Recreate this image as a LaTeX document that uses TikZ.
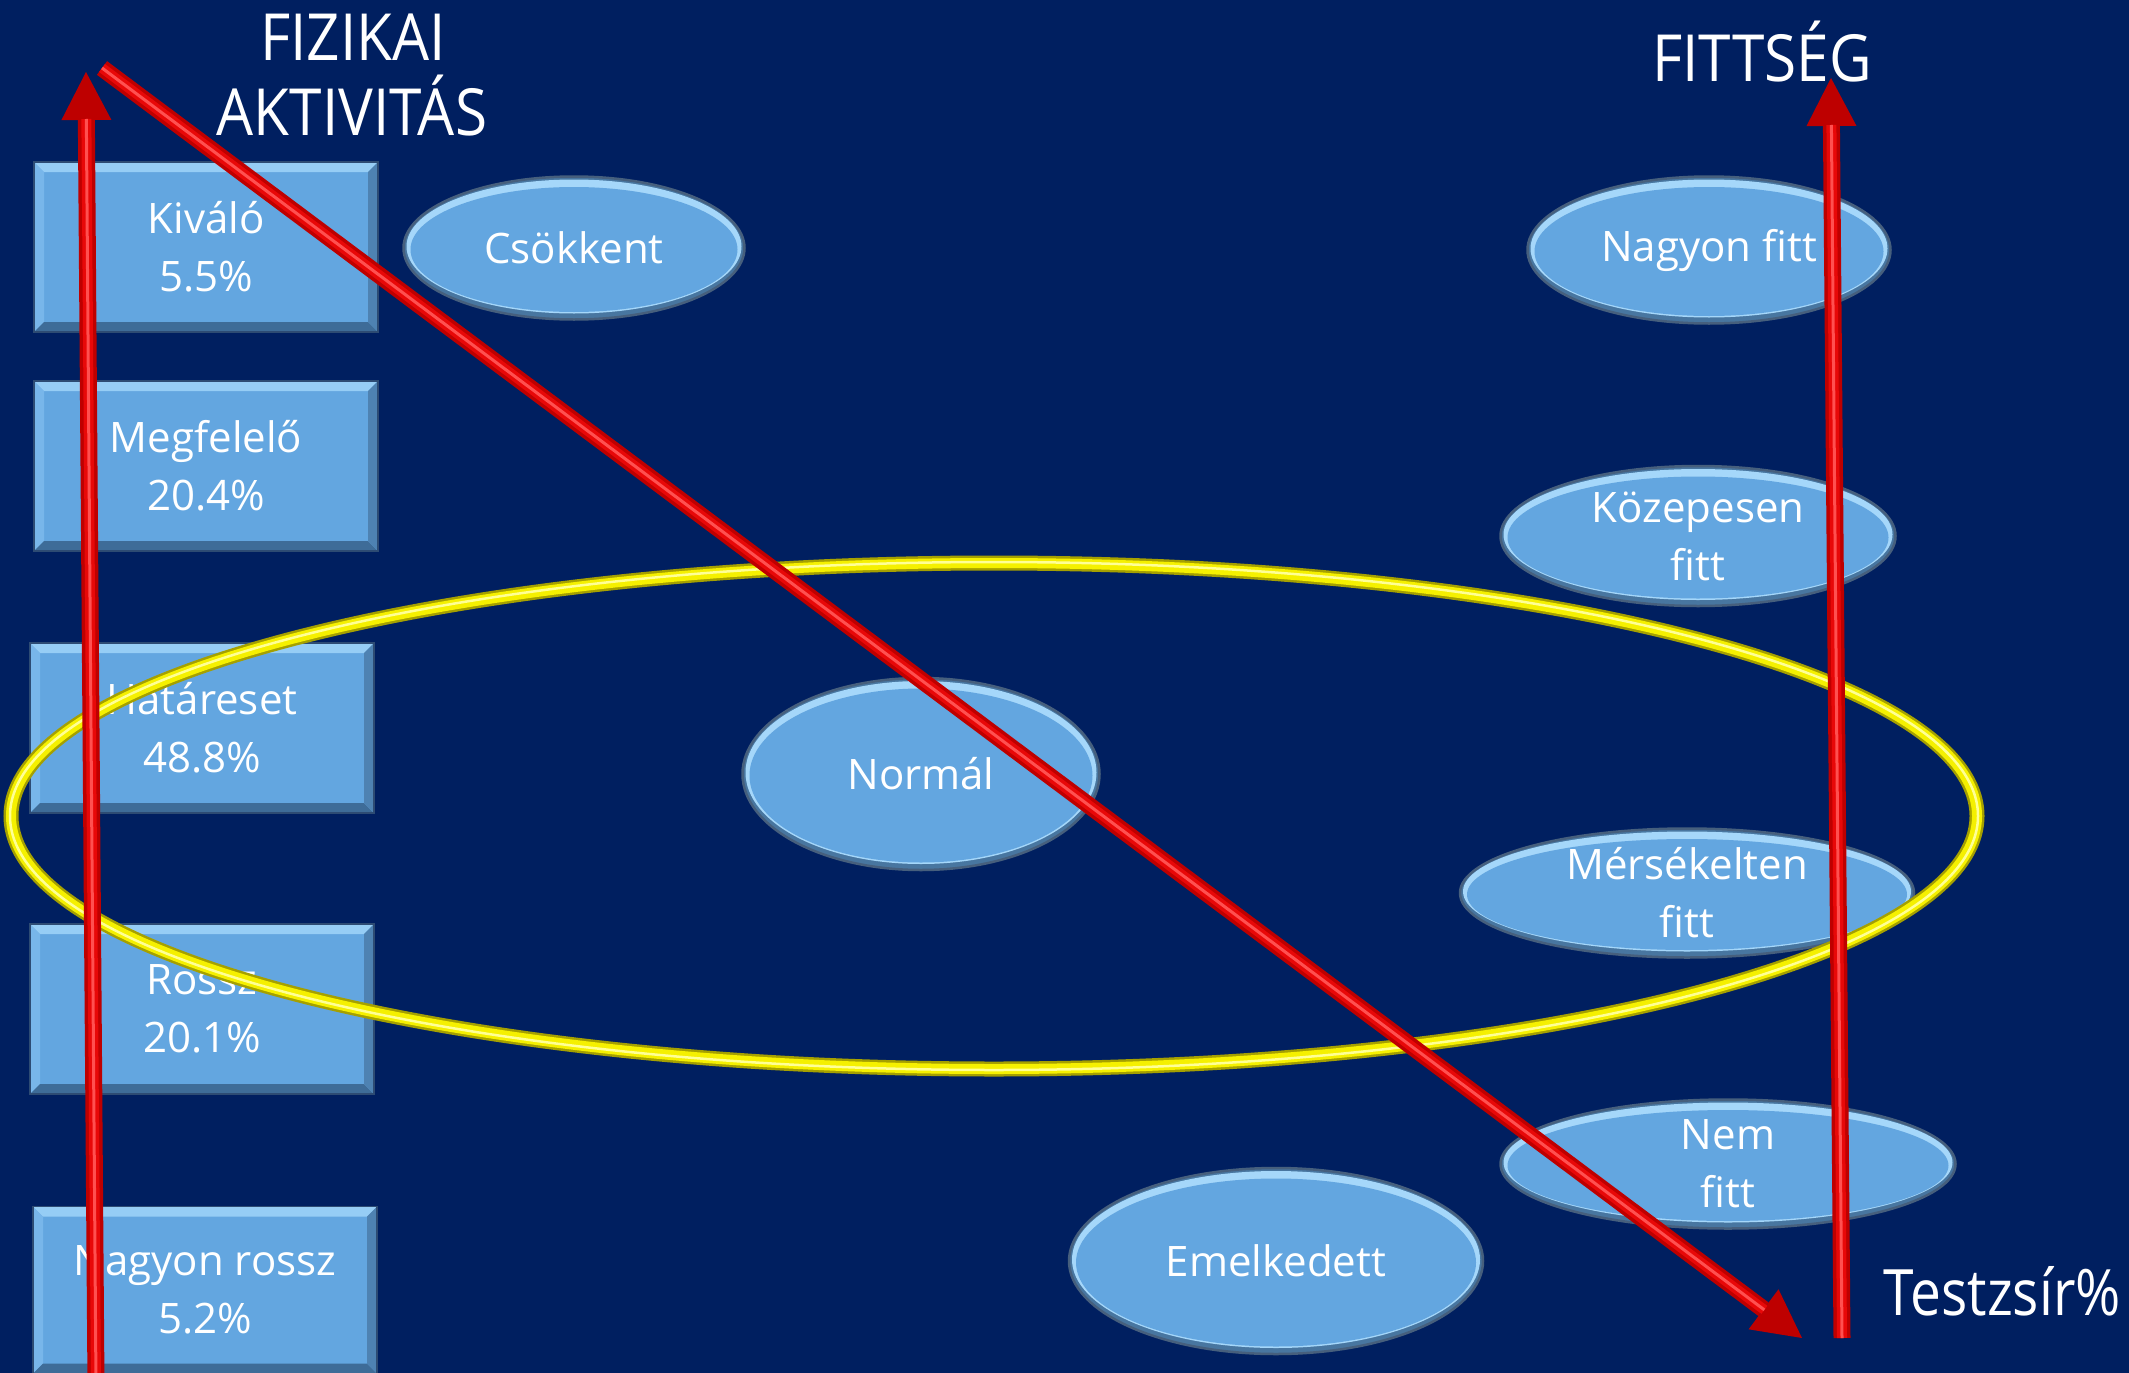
\documentclass[tikz,border=0pt]{standalone}
\usepackage{fontspec}
\setmainfont{Open Sans}
\newfontfamily\titlefont{Open Sans}[FakeStretch=0.9]
\newfontfamily\titlefontn{Open Sans}[FakeStretch=0.86]
\usetikzlibrary{shapes.geometric,arrows.meta}
\definecolor{bg}{RGB}{0,31,96}
\definecolor{boxblue}{RGB}{99,166,224}
\definecolor{boxlight}{RGB}{150,205,245}
\definecolor{boxleft}{RGB}{120,182,234}
\definecolor{boxdark}{RGB}{62,108,152}
\definecolor{boxright}{RGB}{78,130,178}
\definecolor{boxedge}{RGB}{45,75,115}
\definecolor{ovaledge}{RGB}{70,95,125}
\definecolor{ovaldark}{RGB}{72,118,160}
\definecolor{ovallight}{RGB}{165,215,250}
\definecolor{tubebase}{RGB}{190,0,0}
\definecolor{tubered}{RGB}{232,8,8}
\definecolor{tubelight}{RGB}{255,80,80}
\definecolor{ringdark}{RGB}{165,160,0}
\definecolor{ringyel}{RGB}{245,240,0}
\definecolor{ringlight}{RGB}{255,255,150}
\begin{document}
\begin{tikzpicture}[x=1pt,y=-1pt,
  bodytext/.style={text=white, align=center, font=\fontsize{42}{58}\selectfont},
  pbox/.style={rectangle, bodytext, minimum width=344pt, minimum height=170pt, inner sep=0pt,
    fill=boxblue, draw=boxedge, line width=1.5pt,
    path picture={
      \path (path picture bounding box.north west) coordinate (pnw)
            (path picture bounding box.south east) coordinate (pse)
            (path picture bounding box.north east) coordinate (pne)
            (path picture bounding box.south west) coordinate (psw);
      \fill[boxlight] (pnw) -- (pne) -- ([shift={(-10pt,-10pt)}]pne) -- ([shift={(10pt,-10pt)}]pnw) -- cycle;
      \fill[boxleft] (pnw) -- (psw) -- ([shift={(10pt,10pt)}]psw) -- ([shift={(10pt,-10pt)}]pnw) -- cycle;
      \fill[boxdark] (psw) -- (pse) -- ([shift={(-10pt,10pt)}]pse) -- ([shift={(10pt,10pt)}]psw) -- cycle;
      \fill[boxright] (pne) -- (pse) -- ([shift={(-10pt,10pt)}]pse) -- ([shift={(-10pt,-10pt)}]pne) -- cycle;
    }},
  oval/.style={ellipse, inner sep=0pt, fill=ovaldark, draw=ovaledge, line width=2.5pt},
  ovaltext/.style={bodytext},
  title/.style={text=white, font=\titlefont\fontsize{65}{75}\selectfont, inner sep=0pt},
  tube/.style={line width=17pt, draw=tubebase, fill=tubebase, -{Triangle[length=48pt,width=50pt,line width=0pt]}},
  tubecore/.style={line width=10pt, draw=tubered, shorten >=47pt},
  tubehl/.style={line width=3pt, draw=tubelight, shorten >=47pt},
]
% background and bounding box
\fill[bg] (0,0) rectangle (2129,1373);
\useasboundingbox (0,0) rectangle (2129,1373);

% left column boxes
\node[pbox] (kivalo) at (206,247) {Kiváló\\5.5\%};
\node[pbox] (megf) at (206,466) {Megfelelő\\20.4\%};
\node[pbox] (hatar) at (202,728) {Határeset\\48.8\%};
\node[pbox] (rossz) at (202,1009) {Rossz\\20.1\%};
\node[pbox, minimum height=167pt] (nrossz) at (205,1290) {Nagyon rossz\\5.2\%};

% ovals (with bevel rims) and their texts
\foreach \n/\x/\y/\w/\h/\t in {
    csok/574/248/341/143/Csökkent,
    nfitt/1709/250/363/147/Nagyon fitt,
    kozep/1698/536/395/140/Közepesen\\fitt,
    norm/921/774/357/192/Normál,
    mers/1687/893/454/129/Mérsékelten\\fitt,
    nemf/1728/1164/455/129/Nem\\fitt,
    emel/1276/1261/414/186/Emelkedett}{
  \node[oval, minimum width=\w pt, minimum height=\h pt] (\n) at (\x,\y) {};
  \fill[ovallight] (\x,\y-1.5) ellipse [x radius=\w/2-3, y radius=\h/2-4.5];
  \fill[boxblue] (\x,\y+1.5) ellipse [x radius=\w/2-7, y radius=\h/2-9];
  \node[ovaltext] (\n t) at (\n) {\t};
}

% yellow ring
\coordinate (ringc) at (994,816);
\draw[ringdark, line width=15pt] (ringc) ellipse [x radius=983, y radius=253];
\draw[ringyel, line width=10pt] (ringc) ellipse [x radius=983, y radius=253];
\draw[ringlight, line width=2.5pt] (ringc) ellipse [x radius=984, y radius=254];

% red arrows
\coordinate (lb) at (96,1385);
\coordinate (lt) at (86,72);
\coordinate (ds) at (102,68);
\coordinate (de) at (1802,1338);
\coordinate (rb) at (1842,1338);
\coordinate (rt) at (1831,78);
\foreach \a/\b in {lb/lt, ds/de, rb/rt}{
  \draw[tube] (\a) -- (\b);
  \draw[tubecore] (\a) -- (\b);
  \draw[tubehl] (\a) -- (\b);
}

% titles
\node[title, anchor=base] (fiz1) at (353,60) {FIZIKAI};
\node[title, anchor=base] (fiz2) at (352,135) {AKTIVITÁS};
\node[title, anchor=base] (fitt) at (1762,81) {FITTSÉG};
\node[title, font=\titlefontn\fontsize{64}{75}\selectfont, anchor=base east] (tzs) at (2121,1315) {Testzsír\%};
\end{tikzpicture}
\end{document}
